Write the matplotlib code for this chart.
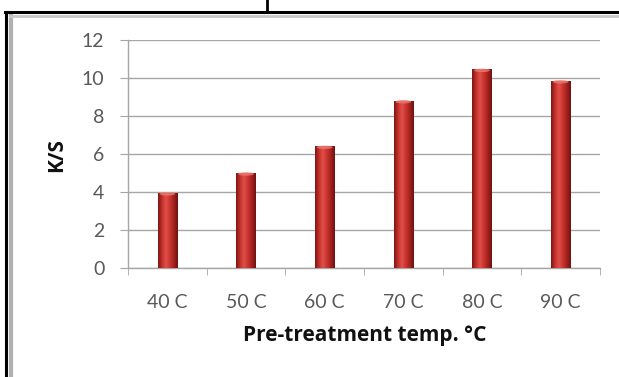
import numpy as np
import matplotlib
matplotlib.use("Agg")
import matplotlib.pyplot as plt
from matplotlib.lines import Line2D
from matplotlib.patches import Ellipse
from matplotlib.colors import LinearSegmentedColormap

categories = ["40 C", "50 C", "60 C", "70 C", "80 C", "90 C"]
ks_values = [3.95, 5.0, 6.4, 8.8, 10.45, 9.85]
y_ticks = [0, 2, 4, 6, 8, 10, 12]

W, H = 619, 377
fig = plt.figure(figsize=(W / 100, H / 100), dpi=100)
fig.patch.set_facecolor("white")

ax = fig.add_axes([128 / W, 1 - 268 / H, (600 - 128) / W, (268 - 40) / H])
ax.set_facecolor("white")

x = np.arange(len(categories))
bars = ax.bar(x, ks_values, width=0.25, color="#b52a26", zorder=3)

cmap = LinearSegmentedColormap.from_list(
    "barred", ["#7e1613", "#c4312c", "#e0504a", "#c9342f", "#a3211d", "#6e1210"])
grad = np.linspace(0, 1, 64).reshape(1, -1)
for b in bars:
    x0, w, h = b.get_x(), b.get_width(), b.get_height()
    im = ax.imshow(grad, cmap=cmap, extent=[x0, x0 + w, 0, h], aspect="auto",
                   zorder=3.5, interpolation="bicubic")
    im.set_clip_path(b)
    ax.add_patch(Ellipse((x0 + w / 2, h - 0.05), w * 0.8, 0.18,
                         facecolor="#ec7a72", edgecolor="none", zorder=4, alpha=0.8))

ax.set_xlim(-0.5, len(categories) - 0.5)
ax.set_ylim(0, 12)
ax.set_yticks(y_ticks)
ax.set_yticklabels([str(t) for t in y_ticks])
ax.set_xticks(x)
ax.set_xticklabels(categories)
ax.set_xticks(np.arange(-0.5, len(categories), 1), minor=True)

grid_c = "#a6a6a6"
ax.yaxis.grid(True, color=grid_c, linewidth=1.0, zorder=0)
ax.set_axisbelow(True)
for s in ["top", "right"]:
    ax.spines[s].set_visible(False)
for s in ["left", "bottom"]:
    ax.spines[s].set_color(grid_c)
    ax.spines[s].set_linewidth(1.0)

font = "Lato"
ax.tick_params(axis="y", which="major", length=6, color=grid_c, pad=11,
               labelsize=14, labelcolor="#595959")
ax.tick_params(axis="x", which="major", length=0, pad=19,
               labelsize=14, labelcolor="#595959")
ax.tick_params(axis="x", which="minor", length=5, color=grid_c)
for lab in ax.get_xticklabels() + ax.get_yticklabels():
    lab.set_family(font)

lab_font = "Open Sans"
fig.text(57 / W, 1 - 155 / H, "K/S", rotation=90, ha="center", va="center",
         fontsize=15, fontweight="bold", family=lab_font, color="#111111")
fig.text(365 / W, 1 - 336 / H, "Pre-treatment temp. °C", ha="center", va="center",
         fontsize=15, fontweight="bold", family=lab_font, color="#111111")

fig.add_artist(Line2D([10.5 / W, 10.5 / W], [0, 1 - 15 / H], color="#b0b0b0", lw=3.0))
fig.add_artist(Line2D([10 / W, 1], [1 - 15.5 / H, 1 - 15.5 / H], color="#c8c8c8", lw=2.0))
fig.add_artist(Line2D([6 / W, 6 / W], [0, 1 - 12 / H], color="black", lw=2.2))
fig.add_artist(Line2D([5 / W, 1], [1 - 12 / H, 1 - 12 / H], color="black", lw=2.2))
fig.add_artist(Line2D([267 / W, 267 / W], [1 - 12 / H, 1], color="black", lw=2.0))

fig.savefig("out.png", dpi=100, facecolor="white")
